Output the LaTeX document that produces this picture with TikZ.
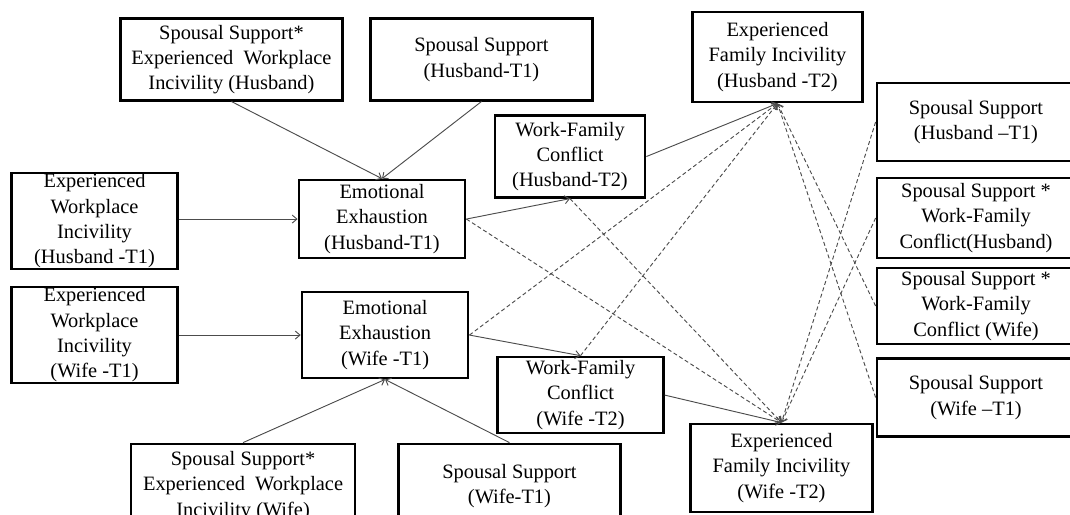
\documentclass[tikz,border=0pt]{standalone}
\usepackage{fontspec}
\setmainfont{Liberation Serif}
\usepackage{tikz}
\usetikzlibrary{arrows,arrows.meta}
\usetikzlibrary{positioning}
\tikzset{
    construct/.style={
           rectangle,
           draw=black, line width=2.1pt,
           inner sep=0pt,
           align=center,
           font=\fontsize{15.3}{19}\selectfont,
           },
    effect/.style={
           draw=black!70,
           line width=0.7pt,
           },
    effect2/.style={
           draw=black!70,
           line width=0.7pt,
           dash pattern=on 3pt off 2pt,
           },
}
\begin{document}
\begin{tikzpicture}
[
->,>={Straight Barb[length=3.5pt,width=6pt]}, x=1pt, y=1pt
]
 \useasboundingbox (0,0) rectangle (802.5,-385.5);

 % husband side, time 1
 \node[construct, minimum width=124.5pt, minimum height=58.5pt] (EEH) at (286.5,-164.3)
  {Emotional\\Exhaustion\\(Husband-T1)};

 \node[construct, minimum width=124pt, minimum height=72pt,
 left of=EEH, node distance=215.6pt, yshift=-1.5pt] (EWIH)
  {Experienced\\Workplace\\Incivility\\(Husband -T1)};

 \node[construct, minimum width=167pt, minimum height=61pt] (SSEWIH) at (173.6,-44.6)
  {Spousal Support*\\Experienced~~Workplace\\Incivility (Husband)};

 \node[construct, minimum width=167pt, minimum height=61pt,
 right of=SSEWIH, node distance=187.5pt] (SSH)
  {Spousal Support\\(Husband-T1)};

 % wife side, time 1
 \node[construct, minimum width=124.5pt, minimum height=64.5pt,
 below of=EEH, node distance=87pt, xshift=2.3pt] (EEW)
  {Emotional\\Exhaustion\\(Wife -T1)};

 \node[construct, minimum width=124pt, minimum height=72pt,
 left of=EEW, node distance=217.9pt] (EWIW)
  {Experienced\\Workplace\\Incivility\\(Wife -T1)};

 \node[construct, minimum width=168pt, minimum height=63pt] (SSEWIW) at (182.3,-364.5)
  {Spousal Support*\\Experienced~~Workplace\\Incivility (Wife)};

 \node[construct, minimum width=167pt, minimum height=63pt,
 right of=SSEWIW, node distance=199.8pt] (SSW)
  {Spousal Support\\(Wife-T1)};

 % time 2
 \node[construct, minimum width=112.5pt, minimum height=61pt] (WFCH) at (427.5,-117.4)
  {Work-Family\\Conflict\\(Husband-T2)};

 \node[construct, minimum width=124pt, minimum height=57pt] (WFCW) at (435.4,-296.3)
  {Work-Family\\Conflict\\(Wife -T2)};

 \node[construct, minimum width=127pt, minimum height=67.5pt] (EFIH) at (583.1,-42.8)
  {Experienced\\Family Incivility\\(Husband -T2)};

 \node[construct, minimum width=136pt, minimum height=66pt] (EFIW) at (586.1,-351)
  {Experienced\\Family Incivility\\(Wife -T2)};

 % moderators on the right
 \node[construct, minimum width=148.5pt, minimum height=58.5pt] (SSHR) at (732,-91.5)
  {Spousal Support\\(Husband –T1)};

 \node[construct, minimum width=148.5pt, minimum height=60pt,
 below of=SSHR, node distance=72pt] (SSWFCH)
  {Spousal Support *\\Work-Family\\Conflict(Husband)};

 \node[construct, minimum width=148.5pt, minimum height=57pt,
 below of=SSWFCH, node distance=66pt] (SSWFCW)
  {Spousal Support *\\Work-Family\\Conflict (Wife)};

 \node[construct, minimum width=148.5pt, minimum height=59pt,
 below of=SSWFCW, node distance=68.6pt] (SSWR)
  {Spousal Support\\(Wife –T1)};

 % paths
 \path
 (SSEWIH.south) edge[effect] (EEH.north)
 (SSH.south) edge[effect] (EEH.north)
 (EWIH.east |- EEH.west) edge[effect] (EEH.west)
 (EEH.east) edge[effect] (WFCH.south)
 (WFCH.east) edge[effect] (EFIH.south)
 (EWIW.east) edge[effect] (EEW.west)
 (EEW.east) edge[effect] (WFCW.north)
 (WFCW.east) edge[effect] (EFIW.north)
 (SSEWIW.north) edge[effect] (EEW.south)
 (SSW.north) edge[effect] (EEW.south)
 ;

 \path
 (EEH.east) edge[effect2] (EFIW.north)
 (WFCH.south) edge[effect2] (EFIW.north)
 (EEW.east) edge[effect2] (EFIH.south)
 (WFCW.north) edge[effect2] (EFIH.south)
 (SSHR.west) edge[effect2] (EFIW.north)
 (SSWFCH.west) edge[effect2] (EFIW.north)
 (SSWFCW.west) edge[effect2] (EFIH.south)
 (SSWR.west) edge[effect2] (EFIH.south)
 ;

\end{tikzpicture}
\end{document}
